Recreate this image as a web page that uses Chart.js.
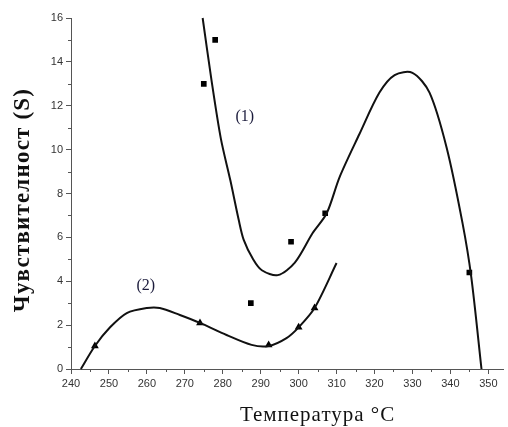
<!DOCTYPE html>
<html>
<head>
<meta charset="utf-8">
<script src="https://cdn.jsdelivr.net/npm/chart.js@4"></script>
<style>
  html, body { margin: 0; padding: 0; background: #fff; }
  #wrap { width: 508px; height: 427px; }
</style>
</head>
<body>
<div id="wrap"><canvas id="sensChart" width="508" height="427"></canvas></div>
<script>
// curve (1) and curve (2)
const curve1X = [274.7, 277, 279.5, 282, 284.2, 285.5, 288, 290.3, 294.5, 299, 303.7, 307.4, 310.8, 316, 321.3, 325.3, 330, 334.5, 339, 343.2, 345.5, 348.2];
const curve1Y = [16, 13.2, 10.5, 8.6, 6.8, 5.9, 5.0, 4.5, 4.28, 4.85, 6.2, 7.1, 8.75, 10.7, 12.6, 13.4, 13.5, 12.6, 10.1, 6.65, 4.2, 0];
const curve2X = [242.6, 246.3, 250.3, 254.7, 260, 263.4, 268.7, 274, 281, 287.6, 292.1, 296.8, 300, 304.2, 310];
const curve2Y = [0, 1.05, 1.9, 2.55, 2.78, 2.78, 2.46, 2.1, 1.55, 1.1, 1.05, 1.41, 1.9, 2.78, 4.83];

// measured points
const squareX = [275, 278, 287.4, 298, 307, 345];
const squareY = [13, 15, 3.0, 5.8, 7.1, 4.4];
const triangleX = [246.3, 274, 292.1, 300, 304.2];
const triangleY = [1.05, 2.1, 1.09, 1.9, 2.78];

// ticks
const xTicks = [240, 250, 260, 270, 280, 290, 300, 310, 320, 330, 340, 350];
const yTicks = [0, 2, 4, 6, 8, 10, 12, 14, 16];

// curve labels
const curveLabels = ['(1)', '(2)'];
const curveLabelX = [285.8, 259.7];
const curveLabelY = [11.5, 3.8];

const toPoints = (xs, ys) => xs.map((x, i) => ({ x: x, y: ys[i] }));

const axisColor = '#555';

// short minor ticks, curve labels and axis titles
const extras = {
    id: 'extras',
    afterDraw(chart) {
        const c = chart.ctx;
        const xs = chart.scales.x, ys = chart.scales.y;
        const area = chart.chartArea;
        c.save();
        c.strokeStyle = axisColor;
        c.lineWidth = 1;
        c.beginPath();
        for (let v = 245; v <= 355; v += 10) {
            const px = Math.round(xs.getPixelForValue(v)) + 0.5;
            if (px > area.right) break;
            c.moveTo(px, area.bottom);
            c.lineTo(px, area.bottom + 3);
        }
        for (let v = 1; v < 16; v += 2) {
            const py = Math.round(ys.getPixelForValue(v)) + 0.5;
            c.moveTo(area.left - 3, py);
            c.lineTo(area.left, py);
        }
        c.stroke();

        c.fillStyle = '#1c1c3c';
        c.font = '16px "Liberation Serif"';
        c.textAlign = 'center';
        c.textBaseline = 'middle';
        curveLabels.forEach((t, i) => {
            c.fillText(t, xs.getPixelForValue(curveLabelX[i]), ys.getPixelForValue(curveLabelY[i]));
        });

        c.fillStyle = '#111';
        c.font = '21px "Liberation Serif"';
        c.letterSpacing = '1px';
        c.textBaseline = 'alphabetic';
        c.fillText('Температура °C', xs.getPixelForValue(305), 421);

        c.translate(29, 200);
        c.rotate(-Math.PI / 2);
        c.font = 'bold 23px "Liberation Serif"';
        c.letterSpacing = '1.2px';
        c.fillText('Чувствителност (S)', 0, 0);
        c.restore();
    }
};

const ctx = document.getElementById('sensChart').getContext('2d');
const chart = new Chart(ctx, {
    type: 'scatter',
    data: {
        datasets: [{
            data: toPoints(curve1X, curve1Y),
            showLine: true,
            borderColor: '#111',
            borderWidth: 2,
            pointRadius: 0,
            tension: 0.3,
            clip: false
        }, {
            data: toPoints(curve2X, curve2Y),
            showLine: true,
            borderColor: '#111',
            borderWidth: 2,
            pointRadius: 0,
            tension: 0.3,
            clip: false
        }, {
            data: toPoints(squareX, squareY),
            pointStyle: 'rect',
            pointRadius: 4,
            backgroundColor: '#000',
            borderColor: '#000',
            borderWidth: 0
        }, {
            data: toPoints(triangleX, triangleY),
            pointStyle: 'triangle',
            pointRadius: 4.5,
            backgroundColor: '#000',
            borderColor: '#000',
            borderWidth: 0
        }]
    },
    options: {
        responsive: false,
        animation: false,
        layout: { padding: { left: 0, right: 4, top: 18, bottom: 0 } },
        plugins: {
            legend: { display: false },
            tooltip: { enabled: false }
        },
        scales: {
            x: {
                type: 'linear',
                min: 240,
                max: 354,
                afterBuildTicks: s => { s.ticks = xTicks.map(v => ({ value: v })); },
                afterFit: s => { s.height = 58; },
                grid: { drawOnChartArea: false, drawTicks: true, tickLength: 5, color: axisColor },
                border: { color: axisColor, width: 1 },
                ticks: {
                    padding: 3,
                    color: '#333',
                    font: { family: '"Liberation Sans"', size: 11 },
                    maxRotation: 0
                }
            },
            y: {
                type: 'linear',
                min: 0,
                max: 16,
                afterBuildTicks: s => { s.ticks = yTicks.map(v => ({ value: v })); },
                afterFit: s => { s.width = 71; },
                grid: { drawOnChartArea: false, drawTicks: true, tickLength: 5, color: axisColor },
                border: { color: axisColor, width: 1 },
                ticks: {
                    padding: 3,
                    color: '#333',
                    font: { family: '"Liberation Sans"', size: 11 }
                }
            }
        }
    },
    plugins: [extras]
});
</script>
</body>
</html>
